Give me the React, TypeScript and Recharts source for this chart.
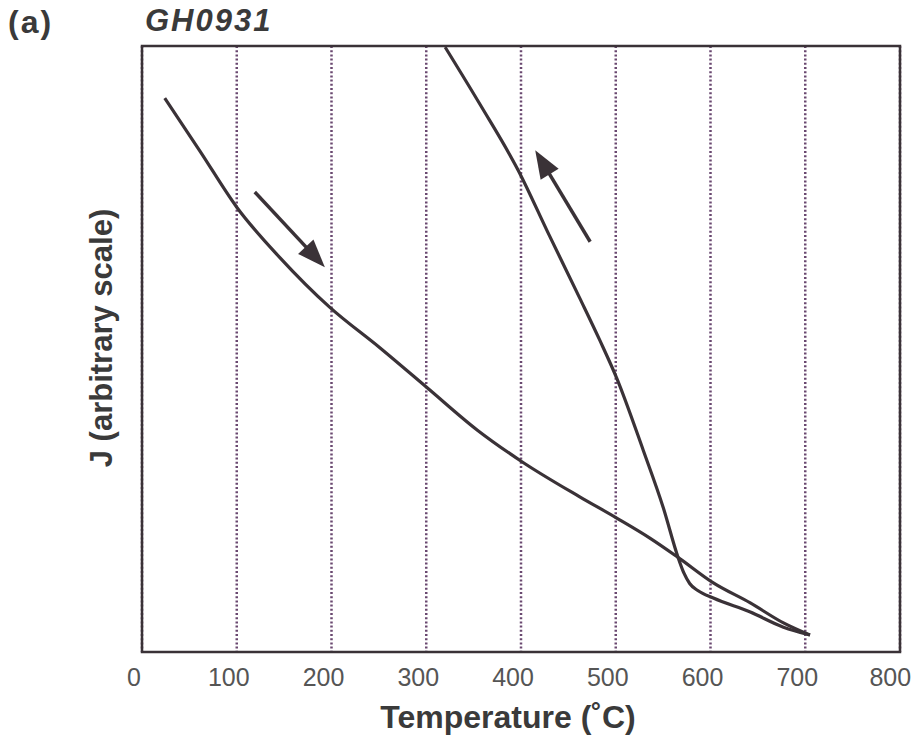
import React from 'react';
import {
  LineChart,
  Line,
  XAxis,
  YAxis,
  CartesianGrid,
  ReferenceArea,
  ReferenceLine,
} from 'recharts';

// temperature ticks (°C)
const tempTicks = [0, 100, 200, 300, 400, 500, 600, 700, 800];

// heating run (arrow pointing down-right), J in arbitrary units 0-100
const heatT = [24, 61, 100, 146, 198, 251, 301, 354, 401, 462, 501, 536, 565, 603, 642, 677, 705];
const heatJ = [91.4, 82.7, 73.4, 65.0, 56.9, 50.2, 43.6, 36.6, 31.4, 25.6, 22.1, 18.8, 15.7, 11.4, 8.1, 4.8, 2.8];

// cooling run (arrow pointing up-left), listed by rising temperature
const coolT = [320, 357, 397, 430, 462, 483, 501, 529, 550, 566, 572, 578, 587, 603, 642, 677, 705];
const coolJ = [99.8, 90.3, 79.5, 68.7, 58.4, 51.5, 45.2, 33.3, 23.9, 15.5, 13.0, 11.3, 10.1, 8.9, 6.6, 4.1, 2.8];

// arrow annotations [tailT, tailJ, tipT, tipJ]
const heatArrow = [119, 75.9, 193, 63.5];
const coolArrow = [473, 67.7, 415, 82.8];

const heating = heatT.map((t, i) => ({ t, j: heatJ[i] }));
const cooling = coolT.map((t, i) => ({ t, j: coolJ[i] }));

const ink = '#3a3237';
const gridColor = '#6a4870';

const arrowShape = (props: any) => {
  const { x1, y1, x2, y2 } = props;
  const dx = x2 - x1;
  const dy = y2 - y1;
  const len = Math.sqrt(dx * dx + dy * dy) || 1;
  const ux = dx / len;
  const uy = dy / len;
  const head = 28;
  const half = 10.5;
  const bx = x2 - ux * head;
  const by = y2 - uy * head;
  const pts = [
    `${x2},${y2}`,
    `${bx - uy * half},${by + ux * half}`,
    `${bx + uy * half},${by - ux * half}`,
  ].join(' ');
  return (
    <g>
      <line x1={x1} y1={y1} x2={bx + ux * 4} y2={by + uy * 4} stroke={ink} strokeWidth={3.5} />
      <polygon points={pts} fill={ink} />
    </g>
  );
};

const font = '"Liberation Sans", Arial, Helvetica, sans-serif';

export default function App() {
  return (
    <div style={{ position: 'absolute', left: 0, top: 0, width: 917, height: 738, background: '#fff', fontFamily: font }}>
      <LineChart
        width={917}
        height={738}
        margin={{ top: 46, right: 17, bottom: 26, left: 142 }}
      >
        <CartesianGrid
          horizontal={false}
          stroke={gridColor}
          strokeWidth={2.5}
          strokeDasharray="2 2.2"
        />
        <XAxis
          type="number"
          dataKey="t"
          domain={[0, 800]}
          ticks={tempTicks}
          height={60}
          tickLine={false}
          tickSize={0}
          tickMargin={16}
          axisLine={false}
          tick={{ fontSize: 25, fill: '#555', fontFamily: font, dx: -8 }}
        />
        <YAxis type="number" domain={[0, 100]} hide />
        <ReferenceArea
          x1={0}
          x2={800}
          y1={0}
          y2={100}
          fill="none"
          fillOpacity={0}
          stroke={ink}
          strokeWidth={2.5}
        />
        <Line
          data={heating}
          dataKey="j"
          type="monotone"
          stroke={ink}
          strokeWidth={3.2}
          dot={false}
          isAnimationActive={false}
        />
        <Line
          data={cooling}
          dataKey="j"
          type="monotone"
          stroke={ink}
          strokeWidth={3.2}
          dot={false}
          isAnimationActive={false}
        />
        <ReferenceLine
          segment={[
            { x: heatArrow[0], y: heatArrow[1] },
            { x: heatArrow[2], y: heatArrow[3] },
          ]}
          shape={arrowShape}
        />
        <ReferenceLine
          segment={[
            { x: coolArrow[0], y: coolArrow[1] },
            { x: coolArrow[2], y: coolArrow[3] },
          ]}
          shape={arrowShape}
        />
      </LineChart>

      <div style={{ position: 'absolute', left: 8, top: 6, fontSize: 32, fontWeight: 'bold', color: '#3a3a3a', lineHeight: 1, letterSpacing: 2 }}>
        (a)
      </div>
      <div style={{ position: 'absolute', left: 145, top: 5, fontSize: 31, fontWeight: 'bold', fontStyle: 'italic', color: '#3a3a3a', lineHeight: 1, letterSpacing: 2 }}>
        GH0931
      </div>
      <div style={{ position: 'absolute', left: 508, top: 717, transform: 'translate(-50%, -50%)', fontSize: 32, fontWeight: 'bold', color: '#3a3a3a', lineHeight: 1, whiteSpace: 'nowrap' }}>
        Temperature (˚C)
      </div>
      <div style={{ position: 'absolute', left: 101, top: 338, transform: 'translate(-50%, -50%) rotate(-90deg)', fontSize: 31, fontWeight: 'bold', color: '#3a3a3a', lineHeight: 1, whiteSpace: 'nowrap' }}>
        J (arbitrary scale)
      </div>
    </div>
  );
}
